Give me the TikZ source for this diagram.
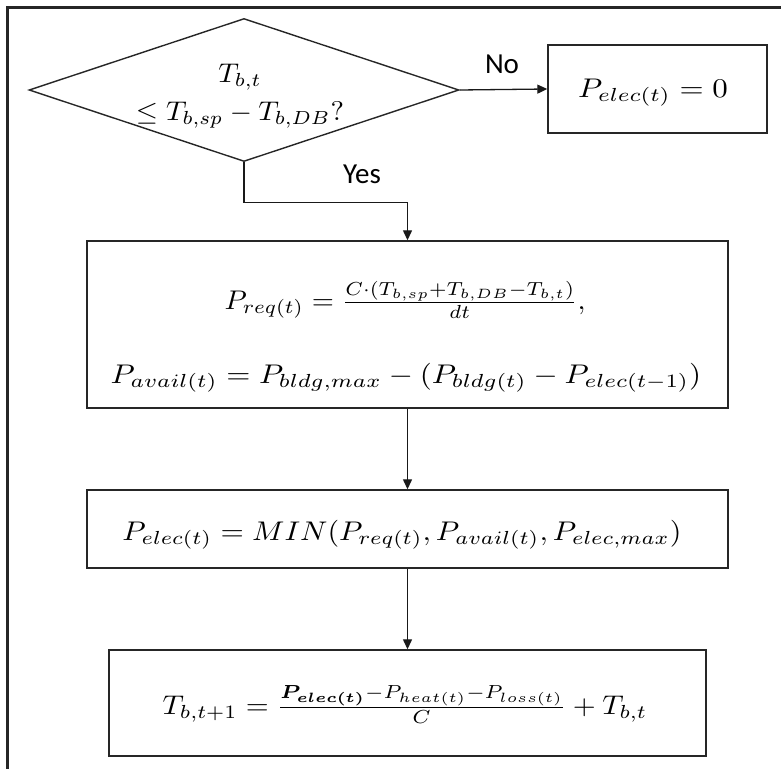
\documentclass[tikz,border=0pt]{standalone}
\usepackage{amsmath,bm,graphicx}
\usepackage{fontspec}
\newfontfamily\labelfont{Carlito}
\usetikzlibrary{arrows.meta,shapes.geometric}
\newcommand{\flowmath}[2][2.85]{\scalebox{#1}[2.7]{$#2$}}
\begin{document}
\begin{tikzpicture}[x=1pt,y=-1pt,
  box/.style={draw=black!85, line width=1.4pt, inner sep=0pt},
  arr/.style={draw=black!90, line width=1.3pt, -{Triangle[length=10pt,width=9pt]}},
  lab/.style={font=\labelfont\fontsize{29}{33}\selectfont, inner sep=0pt},
  mth/.style={inner sep=0pt, anchor=base}]
\useasboundingbox (0,0) rectangle (781,768);
% outer frame (only its left and top sides are inside the picture)
\draw[draw=black!85, line width=2.5pt] (7.5,770) -- (7.5,7.5) -- (783,7.5);
% decision
\node[diamond, draw=black!85, line width=1.4pt, aspect=3, minimum width=430pt, minimum height=143pt, inner sep=0pt] (dec) at (244,90) {};
\node[mth] (dl1) at (240,82) {\flowmath{T_{b,t}}};
\node[mth] (dl2) at (240,120) {\flowmath{\leq T_{b,sp}-T_{b,DB}?}};
% no branch
\node[box, minimum width=219pt, minimum height=88pt] (zero) at (657.5,89) {};
\node[mth] (zerotext) at (653,97) {\flowmath[3.1]{P_{elec(t)}=0}};
% boxes
\node[box, minimum width=641pt, minimum height=167pt] (b2) at (407.5,324.5) {};
\node[mth] (req) at (405,309) {\flowmath{P_{req(t)}=\frac{C\cdot(T_{b,sp}+T_{b,DB}-T_{b,t})}{dt},}};
\node[mth] (avail) at (406,383) {\flowmath[3.1]{P_{avail(t)}=P_{bldg,max}-(P_{bldg(t)}-P_{elec(t-1)})}};
\node[box, minimum width=641pt, minimum height=78pt] (b3) at (407.5,529) {};
\node[mth] (mintext) at (402,540) {\flowmath[3.0]{P_{elec(t)}=MIN(P_{req(t)},P_{avail(t)},P_{elec,max})}};
\node[box, minimum width=597pt, minimum height=106pt] (b4) at (407.5,703) {};
\node[mth] (tnext) at (405,714) {\flowmath[2.95]{T_{b,t+1}=\frac{\bm{P_{elec(t)}}-P_{heat(t)}-P_{loss(t)}}{C}+T_{b,t}}};
% connectors
\draw[arr] (dec.east) -- (zero.west);
\node[lab] (no) at (502,64) {No};
\draw[arr] (dec.south) -- ++(0,40) -| (b2.north);
\node[lab] (yes) at (362,174) {Yes};
\draw[arr] (b2.south) -- (b3.north);
\draw[arr] (b3.south) -- (b4.north);
\end{tikzpicture}
\end{document}
